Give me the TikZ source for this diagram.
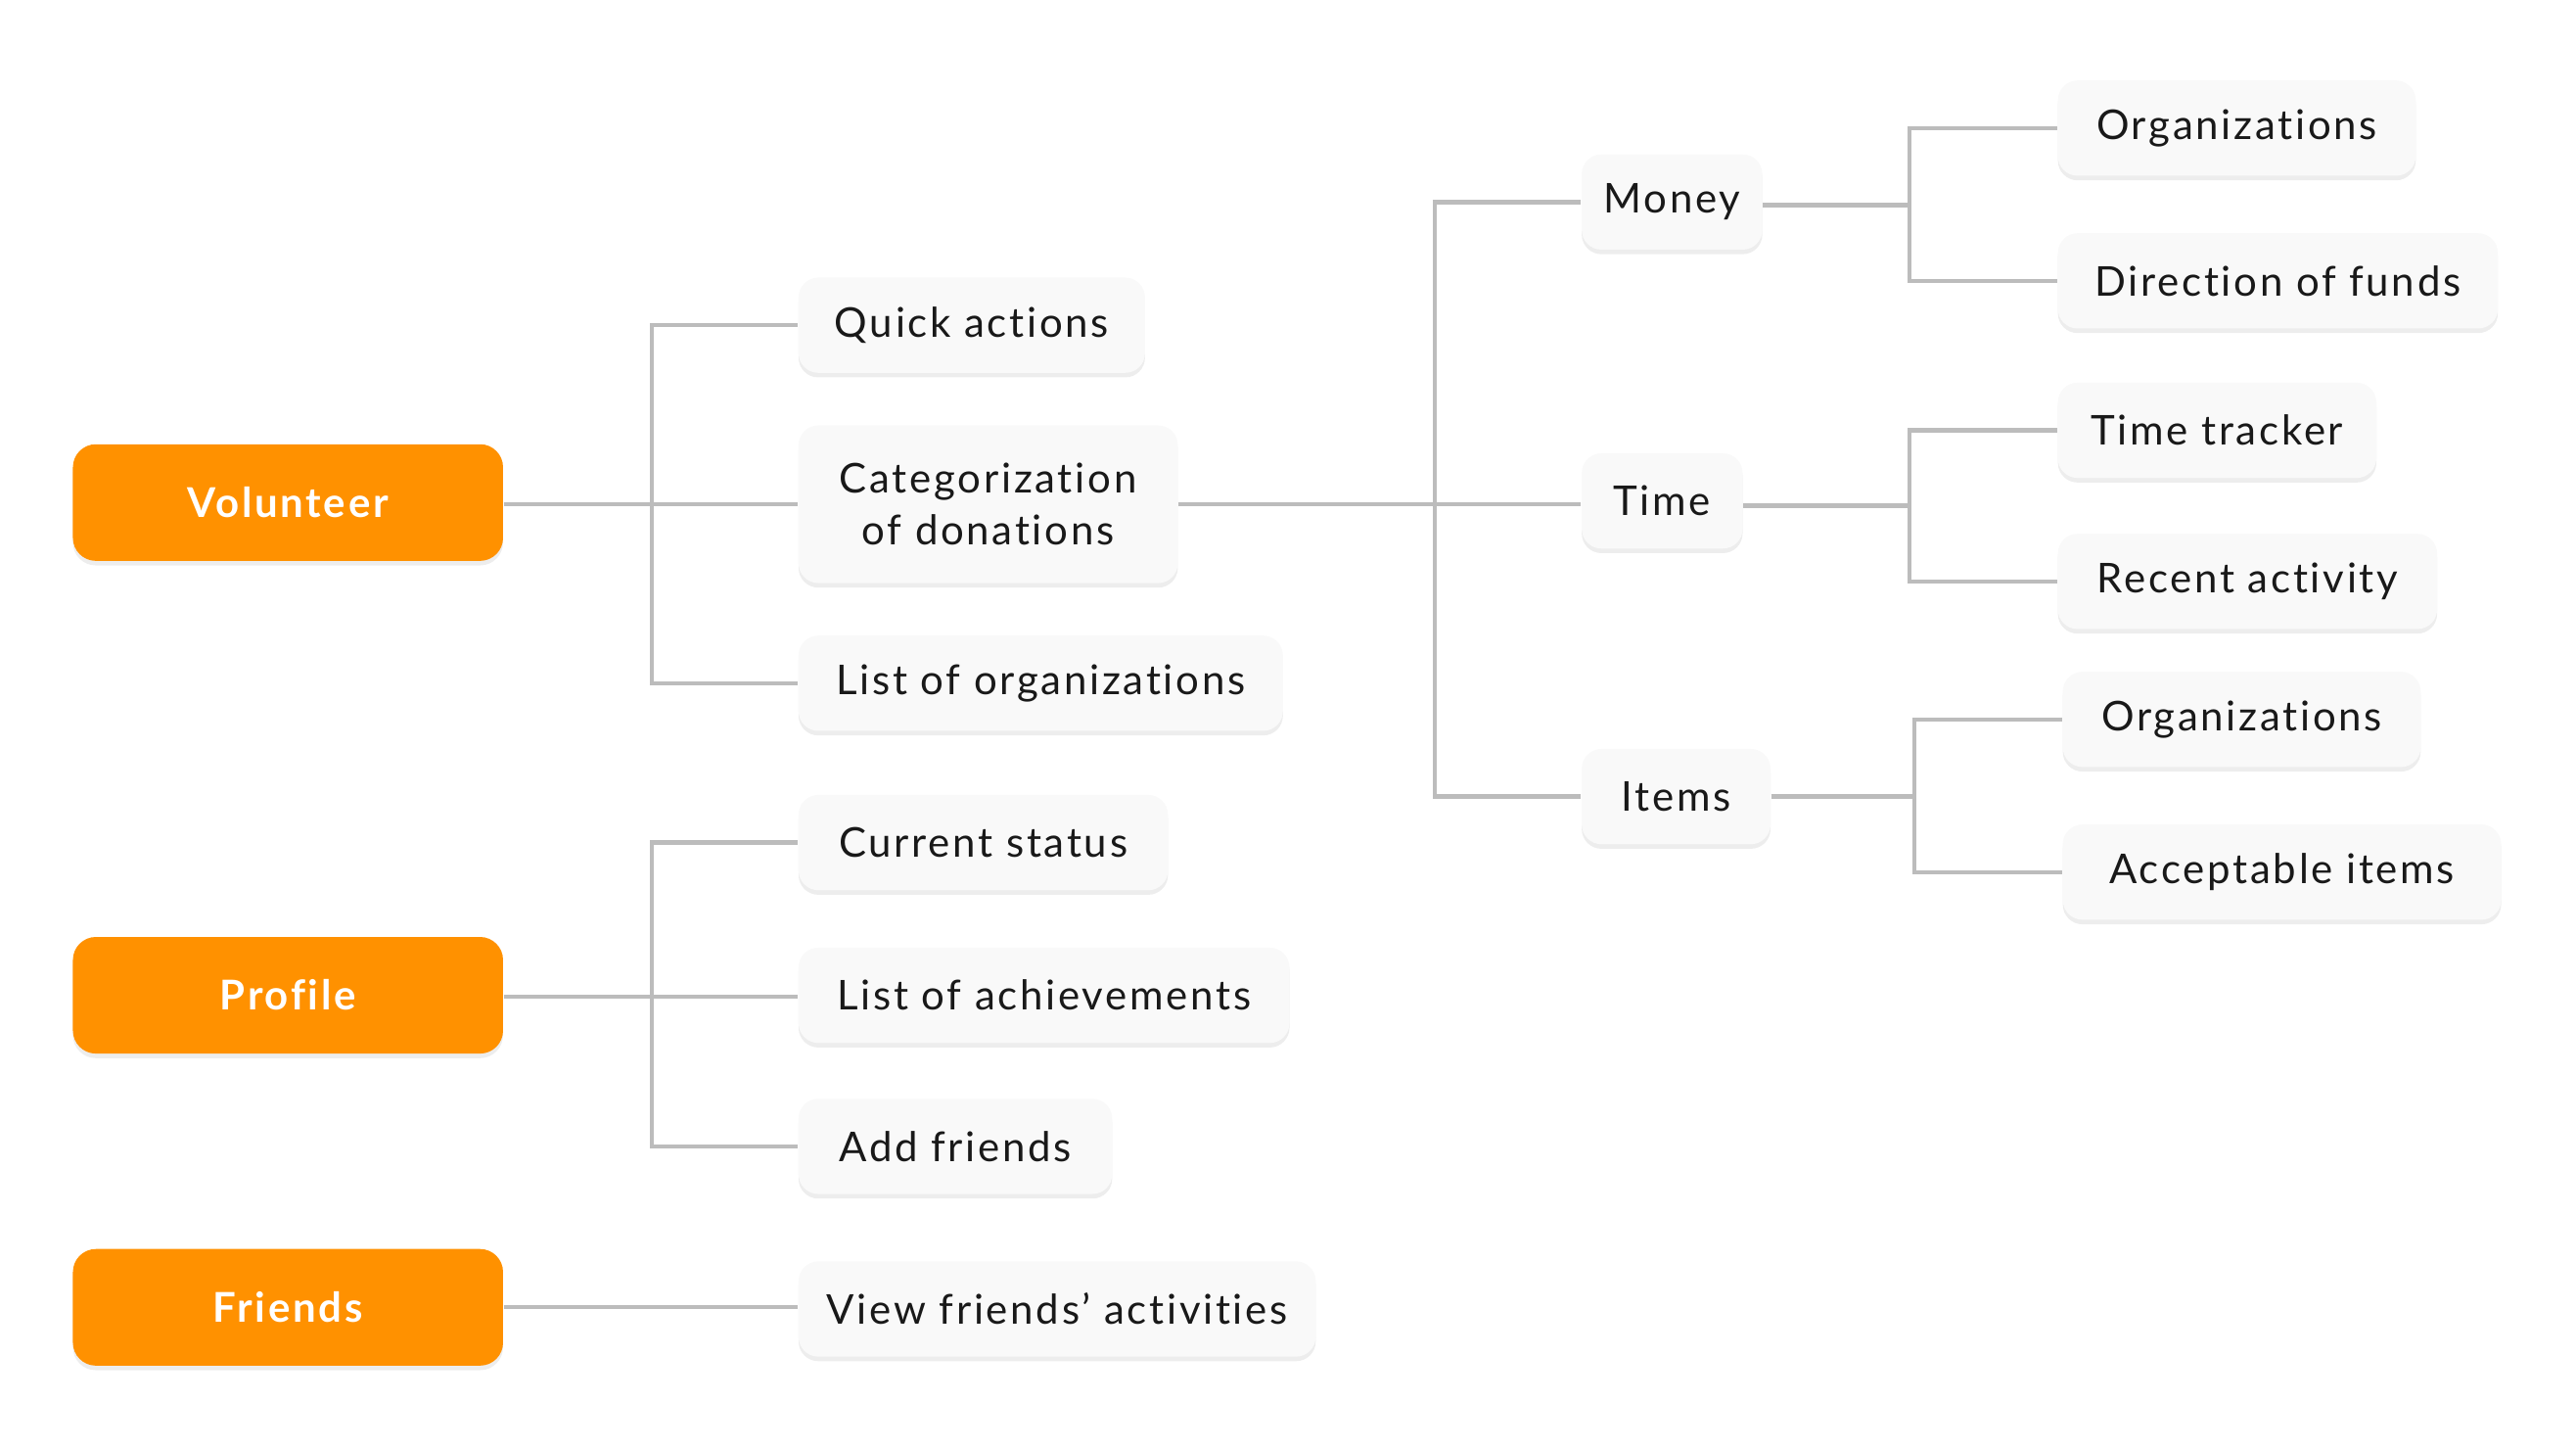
\documentclass[tikz,border=0pt]{standalone}
\usepackage{fontspec}
\setmainfont{Lato}[LetterSpace=6.5, Ligatures={NoCommon}]
\usetikzlibrary{shadows}
\definecolor{orng}{RGB}{255,145,0}
\definecolor{boxfill}{RGB}{249,249,249}
\definecolor{linec}{RGB}{188,188,188}
\definecolor{txt}{RGB}{25,25,25}
\begin{document}
\begin{tikzpicture}[x=0.5pt,y=-0.5pt,
  leaf/.style={fill=boxfill, rounded corners=6pt, minimum height=29pt, inner xsep=0pt,
    anchor=west, align=center, text=txt, font=\fontsize{12.5}{16}\selectfont,
    drop shadow={opacity=0.14, shadow xshift=0pt, shadow yshift=-1.4pt}},
  mainbox/.style={fill=orng, rounded corners=7pt, minimum width=131pt, minimum height=35.5pt,
    inner xsep=0pt, anchor=west, text=white, font=\fontsize{12.5}{15}\selectfont\bfseries,
    drop shadow={opacity=0.14, shadow xshift=0pt, shadow yshift=-1.4pt}},
  conn/.style={draw=linec, line width=1.3pt}]
\useasboundingbox (0,0) rectangle (1569,881.7);
% main nodes
\node[mainbox] (vol) at (44,306) {Volunteer};
\node[mainbox] (pro) at (44,606) {Profile};
\node[mainbox] (fri) at (44,796) {Friends};
% level 2
\node[leaf, minimum width=105.5pt] (quick) at (486,198) {Quick actions};
\node[leaf, minimum width=115.5pt, minimum height=48pt] (cat) at (486,307) {Categorization\\of donations};
\node[leaf, minimum width=147.5pt] (listorg) at (486,416) {List of organizations};
\node[leaf, minimum width=112.5pt] (cur) at (486,513) {Current status};
\node[leaf, minimum width=149.5pt] (ach) at (486,606) {List of achievements};
\node[leaf, minimum width=95.5pt] (add) at (486,698) {Add friends};
\node[leaf, minimum width=157.5pt] (view) at (486,797) {View friends’ activities};
% level 3
\node[leaf, minimum width=55pt] (money) at (963,123) {Money};
\node[leaf, minimum width=49pt] (time) at (963,305) {Time};
\node[leaf, minimum width=57.5pt] (items) at (963,485) {Items};
% level 4
\node[leaf, minimum width=109pt] (org1) at (1253,78) {Organizations};
\node[leaf, minimum width=134pt] (dir) at (1253,171) {Direction of funds};
\node[leaf, minimum width=97pt] (track) at (1253,262) {Time tracker};
\node[leaf, minimum width=115.5pt] (recent) at (1253,354) {Recent activity};
\node[leaf, minimum width=109pt] (org2) at (1256,438) {Organizations};
\node[leaf, minimum width=133.5pt] (acc) at (1256,531) {Acceptable items};
% trunk coordinates
\coordinate (t1) at (397,307);
\coordinate (t2) at (397,607);
\coordinate (t3) at (874,307);
\coordinate (t4) at (1163,125);
\coordinate (t5) at (1163,308);
\coordinate (t6) at (1166,485);
% connectors
\draw[conn] (vol.east |- t1) -- (t1);
\draw[conn] (t1) |- (quick.west);
\draw[conn] (t1) -- (cat.west |- t1);
\draw[conn] (t1) |- (listorg.west);
\draw[conn] (pro.east |- t2) -- (t2);
\draw[conn] (t2) |- (cur.west);
\draw[conn] (t2) -- (ach.west |- t2);
\draw[conn] (t2) |- (add.west);
\draw[conn] (fri.east) -- (view.west |- fri.east);
\draw[conn] (cat.east |- t3) -- (t3);
\draw[conn] (t3) |- (money.west);
\draw[conn] (t3) -- (time.west |- t3);
\draw[conn] (t3) |- (items.west);
\draw[conn] (money.east |- t4) -- (t4);
\draw[conn] (t4) |- (org1.west);
\draw[conn] (t4) |- (dir.west);
\draw[conn] (time.east |- t5) -- (t5);
\draw[conn] (t5) |- (track.west);
\draw[conn] (t5) |- (recent.west);
\draw[conn] (items.east |- t6) -- (t6);
\draw[conn] (t6) |- (org2.west);
\draw[conn] (t6) |- (acc.west);
\end{tikzpicture}
\end{document}
